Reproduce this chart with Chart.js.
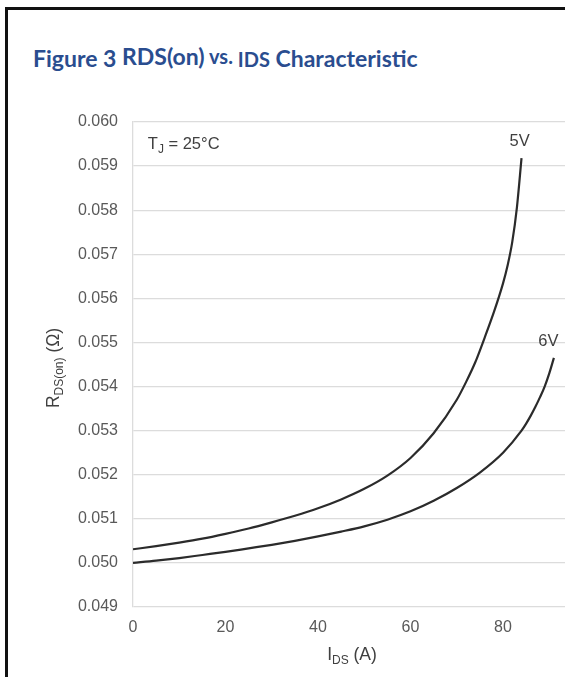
<!DOCTYPE html>
<html>
<head>
<meta charset="utf-8">
<script src="https://cdn.jsdelivr.net/npm/chart.js@4.4.1/dist/chart.umd.min.js"></script>
<style>
  html, body { margin: 0; padding: 0; background: #fff; overflow: hidden; }
  #wrap { position: relative; width: 565px; height: 677px; overflow: hidden; }
  #frame { position: absolute; left: 5px; top: 7px; width: 620px; height: 720px;
           border-left: 3px solid #111; border-top: 3px solid #111; }
  #title { position: absolute; left: 33px; top: 44px; white-space: nowrap;
           font-family: Lato, sans-serif; font-weight: 700; font-size: 23px; color: #2a4d8f; }
  #title .up { position: relative; top: -2px; }
  #title .vs { position: relative; top: -3px; font-size: 20px; }
  #title .ids { font-size: 20px; }
  #chart { position: absolute; left: 0; top: 0; }
</style>
</head>
<body>
<div id="wrap">
  <div id="frame"></div>
  <div id="title">Figure 3 <span class="up">RDS(on)</span><span class="vs"> vs. </span><span class="ids">IDS</span> Characteristic</div>
  <canvas id="chart" width="565" height="677"></canvas>
</div>
<script>
// drain current (A) and on-resistance (ohm)
var current5V = [0, 5, 10, 15, 20, 25, 30, 35, 40, 45, 50, 55, 60, 65, 70, 72, 74, 76, 78, 80, 81, 82, 83, 84];
var rds5V = [0.05031, 0.05038, 0.05046, 0.05055, 0.05066, 0.05078, 0.05092, 0.05107, 0.05124, 0.05144,
  0.05168, 0.05198, 0.05238, 0.05294, 0.05370, 0.05410, 0.05455, 0.05510, 0.05568, 0.05634,
  0.05675, 0.05728, 0.05806, 0.05918];
var current6V = [0, 5, 10, 15, 20, 25, 30, 35, 40, 45, 50, 55, 60, 65, 70, 75, 80, 84, 85, 86, 87, 88, 89, 90, 91];
var rds6V = [0.05000, 0.05005, 0.05011, 0.05018, 0.05025, 0.05033, 0.05041, 0.05050, 0.05060, 0.05071,
  0.05083, 0.05098, 0.05117, 0.05141, 0.05170, 0.05205, 0.05250, 0.05300, 0.05316, 0.05334,
  0.05354, 0.05376, 0.05400, 0.05430, 0.05465];
var yTicks = [0.049, 0.050, 0.051, 0.052, 0.053, 0.054, 0.055, 0.056, 0.057, 0.058, 0.059, 0.060];
var xTicks = [0, 20, 40, 60, 80];

function toPoints(xs, ys) {
  return xs.map(function (v, i) { return { x: v, y: ys[i] }; });
}

var tickFont = { family: '"Liberation Sans", Arial, sans-serif', size: 16 };
var textColor = '#404040';

// draws text made of normal and subscript pieces
function drawPieces(ctx, pieces, x, y, align, size) {
  size = size || 16.5;
  var sub = Math.round(size * 0.7);
  var total = 0;
  pieces.forEach(function (p) {
    ctx.font = (p[1] ? sub : size) + 'px "Liberation Sans", Arial, sans-serif';
    total += ctx.measureText(p[0]).width;
  });
  var cx = align === 'center' ? x - total / 2 : x;
  ctx.textAlign = 'left';
  ctx.textBaseline = 'alphabetic';
  pieces.forEach(function (p) {
    ctx.font = (p[1] ? sub : size) + 'px "Liberation Sans", Arial, sans-serif';
    ctx.fillText(p[0], cx, p[1] ? y + 4 : y);
    cx += ctx.measureText(p[0]).width;
  });
}

var labelsPlugin = {
  id: 'figureText',
  afterDraw: function (chart) {
    var ctx = chart.ctx;
    var xs = chart.scales.x;
    ctx.save();
    ctx.fillStyle = textColor;
    drawPieces(ctx, [['T', false], ['J', true], [' = 25°C', false]], xs.getPixelForValue(3.2), 149, 'left');
    drawPieces(ctx, [['5V', false]], xs.getPixelForValue(83.6), 146, 'center');
    drawPieces(ctx, [['6V', false]], xs.getPixelForValue(89.8), 346, 'center');
    drawPieces(ctx, [['I', false], ['DS', true], [' (A)', false]], 352, 660, 'center', 17.5);
    ctx.translate(59, 368);
    ctx.rotate(-Math.PI / 2);
    drawPieces(ctx, [['R', false], ['DS(on)', true], [' (Ω)', false]], 0, 0, 'center', 17.5);
    ctx.restore();
  }
};

new Chart(document.getElementById('chart'), {
  type: 'line',
  data: {
    datasets: [{
      label: '5V',
      data: toPoints(current5V, rds5V),
      borderColor: '#2b2b2b',
      borderWidth: 2.2,
      pointRadius: 0,
      cubicInterpolationMode: 'monotone',
      fill: false
    }, {
      label: '6V',
      data: toPoints(current6V, rds6V),
      borderColor: '#2b2b2b',
      borderWidth: 2.2,
      pointRadius: 0,
      cubicInterpolationMode: 'monotone',
      fill: false
    }]
  },
  options: {
    responsive: false,
    animation: false,
    layout: { padding: { top: 122, left: 0, right: 0, bottom: 0 } },
    plugins: {
      legend: { display: false },
      tooltip: { enabled: false },
      title: { display: false }
    },
    scales: {
      x: {
        type: 'linear',
        min: 0,
        max: 93.4,
        grid: { display: false, drawTicks: false },
        border: { display: false },
        ticks: { color: '#595959', font: tickFont, padding: 11, maxRotation: 0 },
        afterBuildTicks: function (scale) {
          scale.ticks = xTicks.map(function (v) { return { value: v }; });
        },
        afterFit: function (scale) { scale.height = 70; }
      },
      y: {
        type: 'linear',
        min: 0.049,
        max: 0.060,
        grid: { color: '#dcdcdc', lineWidth: 1.3, drawTicks: false },
        border: { display: true, color: '#dcdcdc', width: 1.3 },
        ticks: {
          color: '#595959', font: tickFont, padding: 15,
          callback: function (v) { return v.toFixed(3); }
        },
        afterBuildTicks: function (scale) {
          scale.ticks = yTicks.map(function (v) { return { value: v }; });
        },
        afterFit: function (scale) { scale.width = 133; }
      }
    }
  },
  plugins: [labelsPlugin]
});
</script>
</body>
</html>
